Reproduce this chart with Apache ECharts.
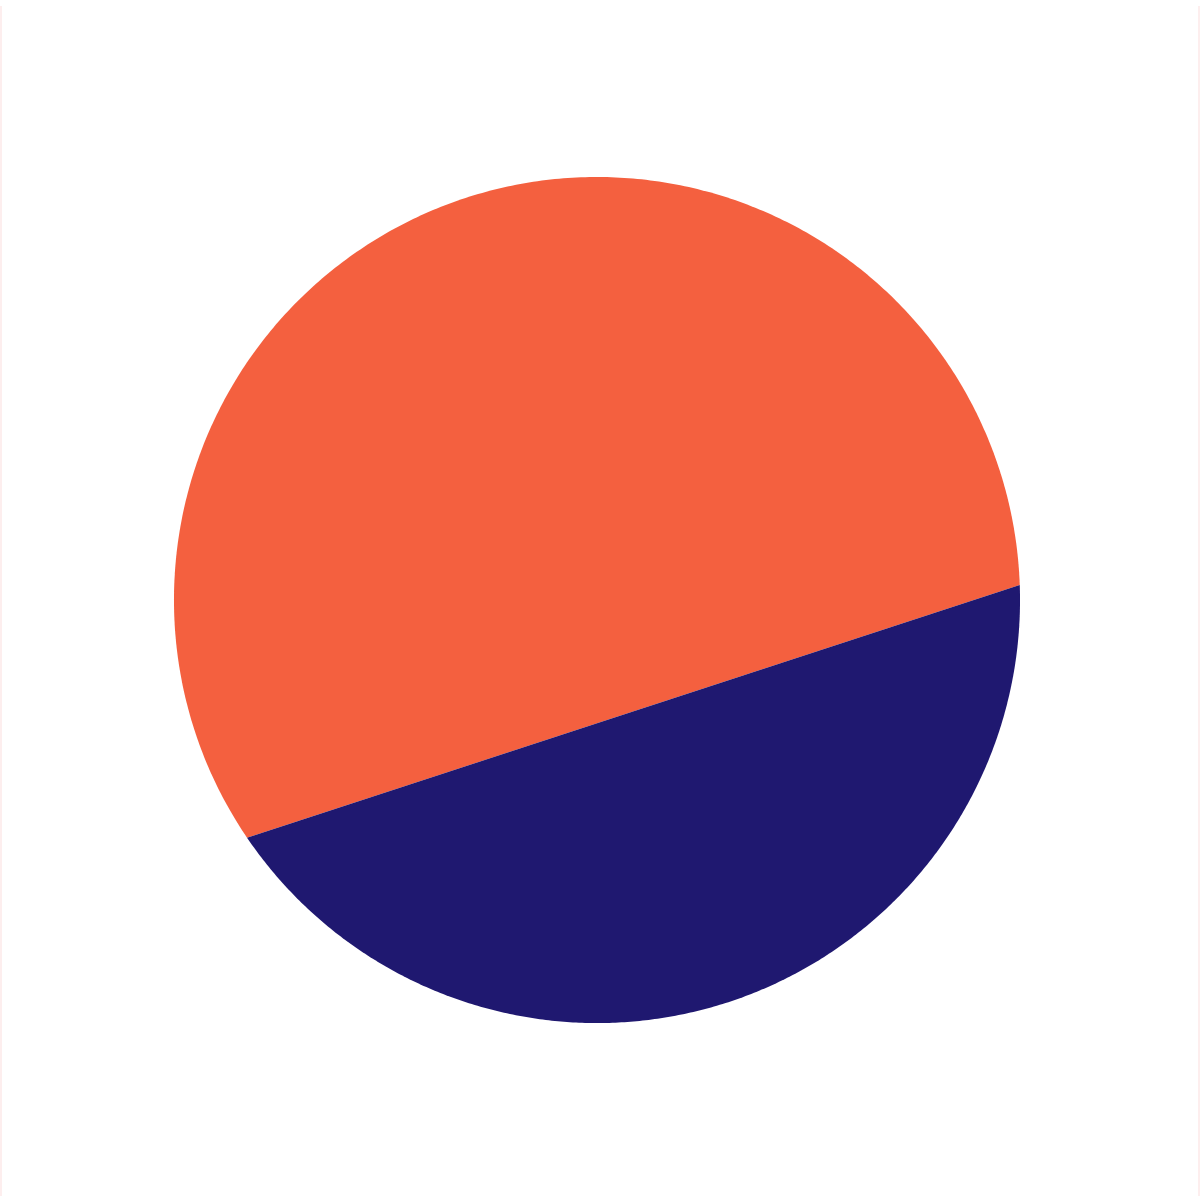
<!DOCTYPE html>
<html>
<head>
<meta charset="utf-8">
<script src="https://cdn.jsdelivr.net/npm/echarts@6/dist/echarts.min.js"></script>
<style>
  html, body { margin: 0; padding: 0; background: #ffffff; }
  #chart { position: absolute; left: 0; top: 0; width: 1200px; height: 1196px; }
  .edge { position: absolute; top: 6px; bottom: 0; width: 2px; background: #fdeeee; }
</style>
</head>
<body>
<div id="chart"></div>
<div class="edge" style="left:0"></div>
<div class="edge" style="right:0"></div>
<script>
// Data
var categories = ['A', 'B'];
var values = [67.4, 32.6];
var colors = ['#F4603F', '#1F1870'];

var chart = echarts.init(document.getElementById('chart'), null, { renderer: 'canvas' });

// Solve central angle of a circular segment whose area fraction is p
function segmentAngle(p) {
  var target = 2 * Math.PI * p, lo = 0, hi = 2 * Math.PI;
  for (var i = 0; i < 60; i++) {
    var mid = (lo + hi) / 2;
    if (mid - Math.sin(mid) < target) lo = mid; else hi = mid;
  }
  return (lo + hi) / 2;
}

var total = values.reduce(function (a, b) { return a + b; }, 0);
var tilt = 71.9 * Math.PI / 180; // direction of the normal pointing to the last segment

function renderItem(params, api) {
  var idx = params.dataIndex;
  var W = api.getWidth(), H = api.getHeight();
  var cx = W * 0.4975, cy = H * 0.5017, r = Math.min(W, H) * 0.3537;
  // fraction for the lower (last) segment
  var pLow = values[values.length - 1] / total;
  var theta = segmentAngle(pLow);
  var a0, a1;
  if (idx === values.length - 1) {
    a0 = tilt - theta / 2; a1 = tilt + theta / 2;
  } else {
    a0 = tilt + theta / 2; a1 = tilt - theta / 2 + 2 * Math.PI;
  }
  var pts = [], n = 360;
  for (var i = 0; i <= n; i++) {
    var a = a0 + (a1 - a0) * i / n;
    pts.push([cx + r * Math.cos(a), cy + r * Math.sin(a)]);
  }
  return {
    type: 'polygon',
    shape: { points: pts },
    style: { fill: colors[idx] }
  };
}

chart.setOption({
  backgroundColor: '#ffffff',
  animation: false,
  series: [{
    type: 'custom',
    coordinateSystem: 'none',
    renderItem: renderItem,
    data: categories.map(function (c, i) { return { name: c, value: values[i] }; })
  }]
});
</script>
</body>
</html>
